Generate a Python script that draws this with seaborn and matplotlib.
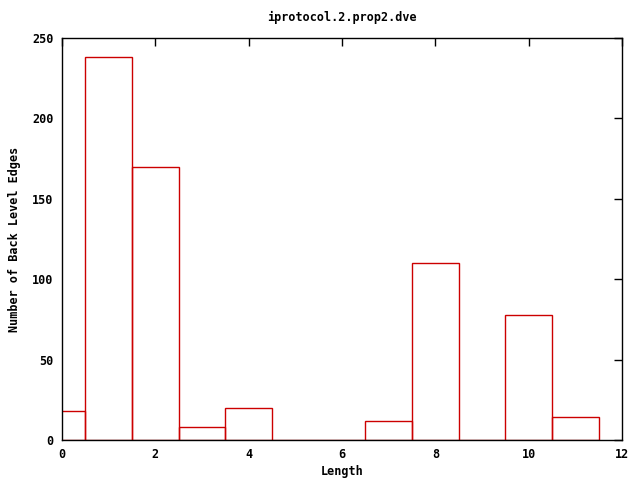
import pandas as pd
import matplotlib
matplotlib.use("Agg")
import matplotlib.pyplot as plt
import seaborn as sns

# -----------------------------
# Data
# -----------------------------
lengths = [0, 1, 2, 3, 4, 5, 6, 7, 8, 9, 10, 11]
edges = [18, 238, 170, 8, 20, 0, 0, 12, 110, 0, 78, 14]

x_ticks = [0, 2, 4, 6, 8, 10, 12]
y_ticks = [0, 50, 100, 150, 200, 250]

title = "iprotocol.2.prop2.dve"
x_label = "Length"
y_label = "Number of Back Level Edges"


def main():

    sns.set_style("white")
    plt.rcParams["font.family"] = ["DejaVu Sans Mono"]
    plt.rcParams["font.weight"] = "bold"
    plt.rcParams["text.color"] = "black"
    plt.rcParams["axes.labelcolor"] = "black"
    plt.rcParams["xtick.color"] = "black"
    plt.rcParams["ytick.color"] = "black"

    df = pd.DataFrame({"length": lengths, "edges": edges})

    fig = plt.figure(figsize=(6.4, 4.8), dpi=100)
    ax = fig.add_axes([62 / 640, 40 / 480, 560 / 640, 402 / 480])

    sns.barplot(
        data=df,
        x="length",
        y="edges",
        native_scale=True,
        width=1.0,
        fill=False,
        color="#cc0000",
        linewidth=1.0,
        errorbar=None,
        ax=ax
    )

    ax.set_xlim(0, 12)
    ax.set_ylim(0, 250)
    ax.set_xticks(x_ticks)
    ax.set_yticks(y_ticks)

    for spine in ax.spines.values():
        spine.set_color("black")
        spine.set_linewidth(1.0)

    ax.tick_params(
        direction="in",
        top=True,
        right=True,
        length=6,
        width=1,
        labelsize=8.5,
        pad=6,
        colors="black"
    )

    for lab in ax.get_xticklabels() + ax.get_yticklabels():
        lab.set_fontweight("bold")

    ax.set_title(title, fontsize=8.5, fontweight="bold", pad=12, color="black")
    ax.set_xlabel(x_label, fontsize=8.5, fontweight="bold", labelpad=3, color="black")
    ax.set_ylabel(y_label, fontsize=8.5, fontweight="bold", labelpad=8, color="black")

    fig.savefig("out.png", dpi=100)


if __name__ == "__main__":
    main()
